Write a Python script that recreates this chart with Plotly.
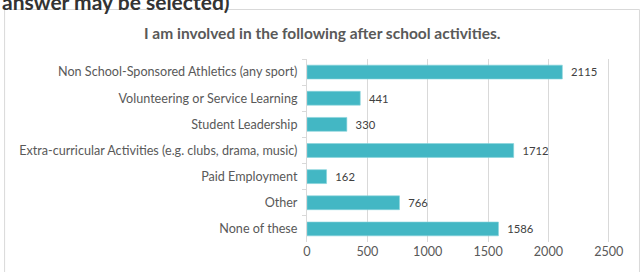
import plotly.graph_objects as go

categories = [
    "Non School-Sponsored Athletics (any sport)",
    "Volunteering or Service Learning",
    "Student Leadership",
    "Extra-curricular Activities (e.g. clubs, drama, music)",
    "Paid Employment",
    "Other",
    "None of these",
]
values = [2115, 441, 330, 1712, 162, 766, 1586]
x_ticks = [0, 500, 1000, 1500, 2000, 2500]

title_text = "I am involved in the following after school activities."
header_text = "answer may be selected)"

FONT = "Lato"
FS = 12.6
BAR = "#43B7C4"
GRID = "#D9D9D9"
TXT = "#595959"

fig = go.Figure()
fig.add_trace(go.Bar(
    x=values,
    y=categories,
    orientation="h",
    marker=dict(color=BAR, line=dict(color="#86D3DB", width=0.6)),
    width=0.53,
    text=values,
    texttemplate="\u00a0\u00a0%{x}",
    textposition="outside",
    cliponaxis=False,
    textfont=dict(family=FONT, size=13, color="#404040"),
))

W, H = 644, 272
left, right = 306.7, 610.0
top, bottom = 58.6, 242.0

def px_x(p):
    return (p - left) / (right - left)

def px_y(p):
    return (bottom - p) / (bottom - top)

fig.update_layout(
    width=W, height=H,
    margin=dict(l=left, r=W - right, t=top, b=H - bottom, pad=0),
    paper_bgcolor="white",
    plot_bgcolor="white",
    showlegend=False,
    font=dict(family=FONT, size=FS, color=TXT),
    shapes=[dict(type="rect", xref="paper", yref="paper",
                 x0=px_x(4), x1=px_x(639.5),
                 y0=px_y(300), y1=px_y(9),
                 line=dict(color="#D9D9D9", width=1), fillcolor="rgba(0,0,0,0)", layer="below")],
    annotations=[
        dict(text="<b>" + title_text + "</b>", xref="paper", yref="paper",
             x=px_x(322.5), y=px_y(32.5),
             xanchor="center", yanchor="middle", showarrow=False,
             font=dict(family=FONT, size=15.5, color=TXT)),
        dict(text="<b>" + header_text + "</b>", xref="paper", yref="paper",
             x=px_x(-1), y=px_y(16),
             xanchor="left", yanchor="bottom", showarrow=False,
             font=dict(family=FONT, size=21, color="#333333")),
    ],
)

fig.update_xaxes(
    range=[0, 2510],
    tickvals=x_ticks,
    showgrid=True, gridcolor=GRID, gridwidth=1,
    zeroline=False, showline=False, ticks="",
    tickfont=dict(family=FONT, size=FS, color=TXT),
    fixedrange=True,
)
fig.update_yaxes(
    categoryorder="array", categoryarray=categories,
    autorange="reversed",
    showline=True, linecolor=GRID, linewidth=1,
    ticks="outside", tickson="boundaries", ticklen=4, tickcolor=GRID,
    showgrid=False,
    tickfont=dict(family=FONT, size=FS, color=TXT),
    ticklabelstandoff=6,
    fixedrange=True,
)

fig.write_html("out.html", config={"displayModeBar": False},
               post_script="document.body.style.margin='0';document.body.style.overflow='hidden';")
